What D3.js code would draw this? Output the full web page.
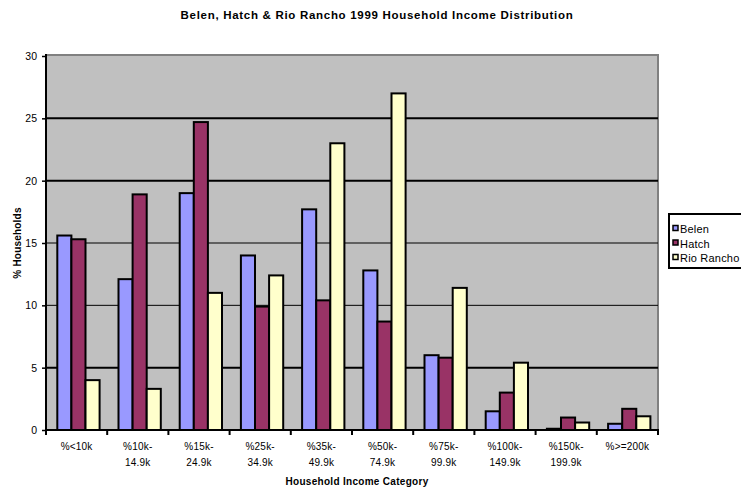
<!DOCTYPE html>
<html>
<head>
<meta charset="utf-8">
<script src="https://cdn.jsdelivr.net/npm/d3@7/dist/d3.min.js"></script>
<style>
  html, body { margin: 0; padding: 0; background: #fff; }
  svg { display: block; font-family: Arial, "Liberation Sans", sans-serif; }
</style>
</head>
<body>
<svg id="chart" width="741" height="489"></svg>
<script>
// Income categories (two-line labels split on "|")
const categories = ["%<10k", "%10k-|14.9k", "%15k-|24.9k", "%25k-|34.9k", "%35k-|49.9k",
                    "%50k-|74.9k", "%75k-|99.9k", "%100k-|149.9k", "%150k-|199.9k", "%>=200k"];
const seriesNames = ["Belen", "Hatch", "Rio Rancho"];
const belen     = [15.6, 12.1, 19.0, 14.0, 17.7, 12.8, 6.0, 1.5, 0.1, 0.5];
const hatch     = [15.3, 18.9, 24.7, 9.9, 10.4, 8.7, 5.8, 3.0, 1.0, 1.7];
const rioRancho = [4.0, 3.3, 11.0, 12.4, 23.0, 27.0, 11.4, 5.4, 0.6, 1.1];
const yTicks = [0, 5, 10, 15, 20, 25, 30];

const seriesValues = [belen, hatch, rioRancho];
const colors = ["#9999FF", "#993366", "#FFFFCC"];

const svg = d3.select("#chart");
const plot = { left: 46, right: 658, top: 56, bottom: 430 };

const x0 = d3.scaleBand().domain(categories).range([plot.left, plot.right]).padding(0);
const x1 = d3.scaleBand().domain(seriesNames).range([11.3, 53.6]).padding(0);
const y = d3.scaleLinear().domain([0, 30]).range([plot.bottom, plot.top]);

// Plot background
svg.append("rect")
  .attr("x", plot.left).attr("y", plot.top - 1)
  .attr("width", plot.right - plot.left).attr("height", plot.bottom - plot.top + 1)
  .attr("fill", "#C0C0C0");

// Gray frame on top and right
svg.append("path")
  .attr("d", `M${plot.left},${plot.top - 1}H${plot.right}V${plot.bottom}`)
  .attr("fill", "none").attr("stroke", "#808080").attr("stroke-width", 2);

// Horizontal gridlines
const heavy = new Set([5, 20, 25]);
svg.append("g").selectAll("line")
  .data(yTicks.filter(t => t > 0 && t < 30))
  .join("line")
  .attr("x1", plot.left).attr("x2", plot.right)
  .attr("y1", d => y(d)).attr("y2", d => y(d))
  .attr("stroke", "#000")
  .attr("stroke-width", d => heavy.has(d) ? 2 : 1);

// Bars
const groups = svg.append("g").selectAll("g")
  .data(categories)
  .join("g")
  .attr("transform", c => `translate(${x0(c)},0)`);

groups.selectAll("rect")
  .data((c, i) => seriesNames.map((s, k) => ({ s, v: seriesValues[k][i], k })))
  .join("rect")
  .attr("x", d => x1(d.s))
  .attr("width", x1.bandwidth())
  .attr("y", d => y(d.v))
  .attr("height", d => y(0) - y(d.v))
  .attr("fill", d => colors[d.k])
  .attr("stroke", "#000")
  .attr("stroke-width", 2);

// Y axis
const yAxis = svg.append("g")
  .attr("transform", `translate(${plot.left},0)`)
  .call(d3.axisLeft(y).tickValues(yTicks).tickSize(4).tickPadding(5));
yAxis.select(".domain").attr("stroke", "#000").attr("stroke-width", 2)
  .attr("d", `M0,${plot.top - 2}V${plot.bottom}`);
yAxis.selectAll(".tick line").attr("stroke", "#000").attr("stroke-width", 1.5);
yAxis.selectAll(".tick text").attr("font-size", 10.5).attr("fill", "#000")
  .attr("font-family", "Arial, 'Liberation Sans', sans-serif");

// X axis with ticks at category boundaries
const xAxisG = svg.append("g").attr("transform", `translate(0,${plot.bottom})`);
xAxisG.append("line")
  .attr("x1", plot.left - 1).attr("x2", plot.right + 1)
  .attr("stroke", "#000").attr("stroke-width", 2);
const boundaries = categories.map(c => x0(c)).concat([plot.right]);
xAxisG.selectAll("line.tick")
  .data(boundaries)
  .join("line").attr("class", "tick")
  .attr("x1", d => d).attr("x2", d => d)
  .attr("y1", 0).attr("y2", 5)
  .attr("stroke", "#000").attr("stroke-width", 2);

const xLabels = xAxisG.selectAll("text.lbl")
  .data(categories)
  .join("text").attr("class", "lbl")
  .attr("x", c => x0(c) + x0.bandwidth() / 2)
  .attr("y", 20)
  .attr("text-anchor", "middle")
  .attr("font-size", 10)
  .attr("letter-spacing", 0.2)
  .attr("fill", "#000");
xLabels.selectAll("tspan")
  .data(c => c.split("|"))
  .join("tspan")
  .attr("x", function () { return d3.select(this.parentNode).attr("x"); })
  .attr("dy", (d, i) => i === 0 ? 0 : 15.5)
  .text(d => d);

// Titles
svg.append("text")
  .attr("x", 377).attr("y", 19)
  .attr("text-anchor", "middle")
  .attr("font-size", 11.5).attr("font-weight", "bold")
  .attr("letter-spacing", 0.7)
  .text("Belen, Hatch & Rio Rancho 1999 Household Income Distribution");

svg.append("text")
  .attr("x", (plot.left + plot.right) / 2 + 5).attr("y", 485)
  .attr("text-anchor", "middle")
  .attr("font-size", 10).attr("font-weight", "bold")
  .attr("letter-spacing", 0.3)
  .text("Household Income Category");

svg.append("text")
  .attr("transform", `translate(21,${(plot.top + plot.bottom) / 2}) rotate(-90)`)
  .attr("text-anchor", "middle")
  .attr("font-size", 10).attr("font-weight", "bold")
  .attr("letter-spacing", 0.2)
  .text("% Households");

// Legend
const legend = svg.append("g").attr("transform", "translate(669,214)");
legend.append("rect")
  .attr("x", 0).attr("y", 0).attr("width", 80).attr("height", 54)
  .attr("fill", "#fff").attr("stroke", "#000").attr("stroke-width", 2);
const items = legend.selectAll("g.item")
  .data(seriesNames)
  .join("g").attr("class", "item")
  .attr("transform", (d, i) => `translate(0,${15 + i * 14.5})`);
items.append("rect")
  .attr("x", 4).attr("y", -3.5).attr("width", 5).attr("height", 5)
  .attr("fill", (d, i) => colors[i]).attr("stroke", "#000").attr("stroke-width", 1.5);
items.append("text")
  .attr("x", 11).attr("y", 4)
  .attr("font-size", 11).attr("fill", "#000")
  .attr("letter-spacing", 0.2)
  .text(d => d);
</script>
</body>
</html>
